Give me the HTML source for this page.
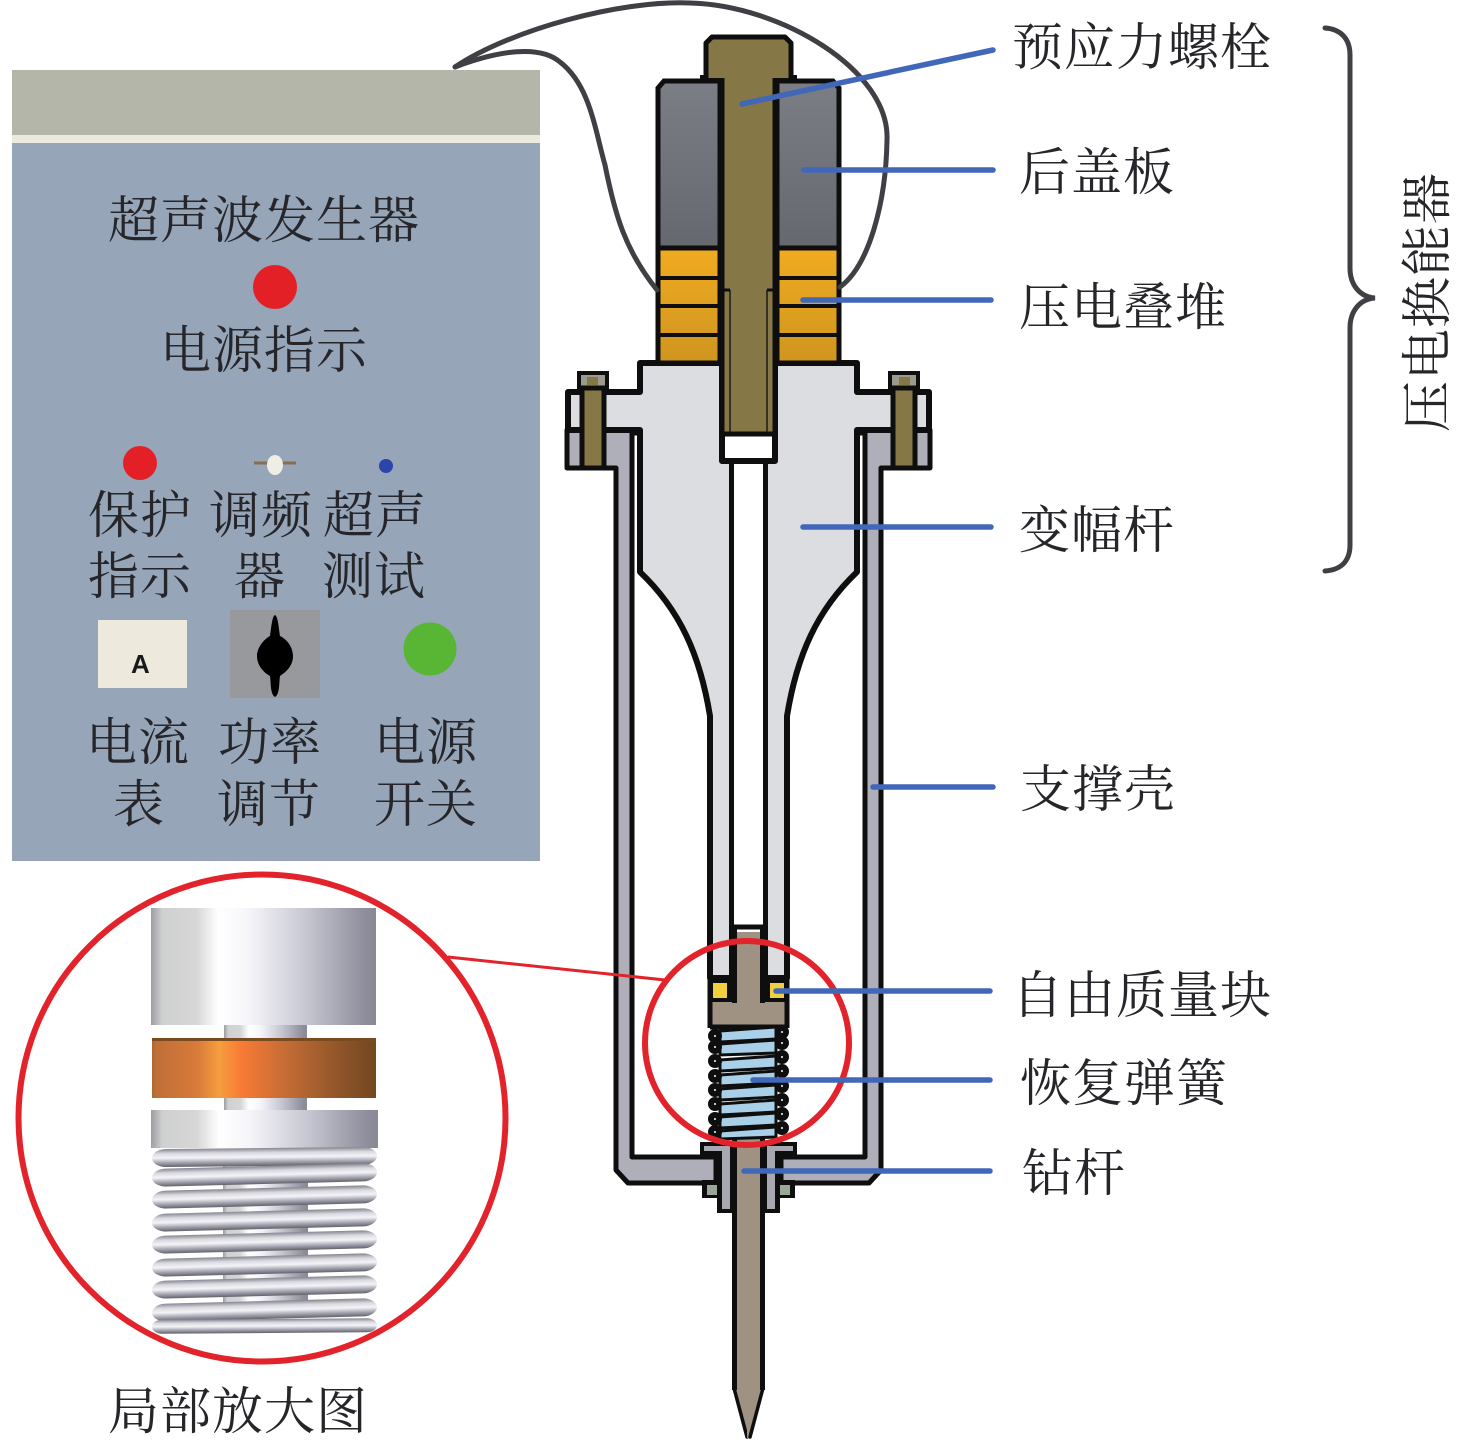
<!DOCTYPE html>
<html lang="zh">
<head>
<meta charset="utf-8">
<title>超声波钻探装置示意图</title>
<style>
html,body{margin:0;padding:0;background:#fff}
svg{display:block}
text{font-family:"Liberation Serif","Noto Serif CJK SC",serif;fill:#26262a;font-size:51px;letter-spacing:1px}
</style>
</head>
<body>
<svg width="1476" height="1456" viewBox="0 0 1476 1456" xmlns="http://www.w3.org/2000/svg">
<defs>
<linearGradient id="plate" x1="0" y1="0" x2="0" y2="1"><stop offset="0" stop-color="#7b7e85"/><stop offset="1" stop-color="#65686f"/></linearGradient>
<linearGradient id="stack" gradientUnits="userSpaceOnUse" x1="0" y1="248" x2="0" y2="363"><stop offset="0" stop-color="#f0ab20"/><stop offset="1" stop-color="#cf951f"/></linearGradient>
<linearGradient id="cyl" x1="0" y1="0" x2="1" y2="0"><stop offset="0" stop-color="#9c9ca2"/><stop offset=".05" stop-color="#cfd0d0"/><stop offset=".2" stop-color="#d6d6d6"/><stop offset=".3" stop-color="#ffffff"/><stop offset=".43" stop-color="#f6f6fa"/><stop offset=".7" stop-color="#c5c5d0"/><stop offset=".95" stop-color="#8e8e9c"/><stop offset="1" stop-color="#8a8a96"/></linearGradient>
<linearGradient id="copper" x1="0" y1="0" x2="1" y2="0"><stop offset="0" stop-color="#a96a35"/><stop offset=".02" stop-color="#c06f38"/><stop offset=".2" stop-color="#d87a3a"/><stop offset=".3" stop-color="#f59e3e"/><stop offset=".4" stop-color="#f97a35"/><stop offset=".6" stop-color="#c46c35"/><stop offset=".85" stop-color="#8c5428"/><stop offset="1" stop-color="#74471f"/></linearGradient>
<linearGradient id="coil" x1="0" y1="0" x2="0" y2="1"><stop offset="0" stop-color="#85858f"/><stop offset=".25" stop-color="#d8d8de"/><stop offset=".5" stop-color="#f4f4f8"/><stop offset=".75" stop-color="#a8a8b4"/><stop offset="1" stop-color="#62626c"/></linearGradient>
<g id="half">
  <!-- housing wall and flange -->
  <path d="M567,430 H640 V433 H632 V1157 H716 V1183 H636 L628,1183 L616,1170 V468 H567 Z" fill="#aeafb9" stroke="#0e0e0e" stroke-width="5" stroke-linejoin="round"/>
  <!-- horn half -->
  <path d="M640,363 H722 V461 H732 V978 H710 V716 C700,655 680,610 640,572 V430 H568 V392 H640 Z" fill="#dcdde0" stroke="#0e0e0e" stroke-width="6" stroke-linejoin="round"/>
  <rect x="734" y="464" width="16" height="461" fill="#fff"/>
  <rect x="725" y="437" width="25" height="21" fill="#fff"/>
  <path d="M722,461 H750" stroke="#0e0e0e" stroke-width="6"/>
  <path d="M732,927 H750" stroke="#0e0e0e" stroke-width="5"/>
  <!-- flange bolt -->
  <rect x="579" y="373" width="28" height="17" fill="#9a9a8e" stroke="#0e0e0e" stroke-width="4"/>
  <rect x="587" y="377" width="11" height="8" fill="#867846"/>
  <rect x="582" y="388" width="22" height="80" fill="#867846" stroke="#0e0e0e" stroke-width="5"/>
  <!-- back plate -->
  <path d="M658,248 V88 L664,81 H720 V248 Z" fill="url(#plate)" stroke="#0e0e0e" stroke-width="5"/>
  <rect x="658" y="248" width="62" height="115" fill="url(#stack)" stroke="#0e0e0e" stroke-width="5"/>
  <rect x="656" y="276" width="64" height="4" fill="#0e0e0e"/>
  <rect x="656" y="304" width="64" height="4" fill="#0e0e0e"/>
  <rect x="656" y="333" width="64" height="4" fill="#0e0e0e"/>
  <rect x="700" y="75" width="22" height="7" fill="#0e0e0e"/>
  <!-- bolt -->
  <path d="M750,37 H712 L706,43 V78 H722 V434 H750 Z" fill="#867846"/>
  <path d="M750,37 H712 L706,43 V78 M722,78 V434 H750" fill="none" stroke="#0e0e0e" stroke-width="5" stroke-linejoin="round"/>
  <path d="M730,290 V432" stroke="#1c1c1c" stroke-width="1.5"/>
  <path d="M722,290 H730" stroke="#0e0e0e" stroke-width="3"/>
  <!-- free mass region -->
  <rect x="708" y="976" width="29" height="28" fill="#0e0e0e"/>
  <rect x="713" y="983" width="14" height="15" fill="#f2cf3f"/>
  <path d="M750,932 H737 V1002 H712 V1026 H750 Z" fill="#a09282"/>
  <path d="M734.500,927 V1003 M710,978 V1028 M710,1027 H750" fill="none" stroke="#0e0e0e" stroke-width="5"/>
  <!-- lower fittings -->
  <path d="M700,1142 H750 V1213 H717 V1198 H702 V1180 H715 V1157 H700 Z" fill="#0e0e0e"/>
  <rect x="707" y="1185" width="10" height="10" fill="#9aa898"/>
  <path d="M704,1146 H730 V1209 H722 V1151 H704 Z" fill="#a8a9b0"/>
  <!-- tool -->
  <path d="M750,1130 H734 V1390 L747,1438 H750 Z" fill="#a09282"/>
  <path d="M734.500,1135 V1390" fill="none" stroke="#0e0e0e" stroke-width="5"/>
  <path d="M734.500,1390 L747,1437" fill="none" stroke="#0e0e0e" stroke-width="3.500" stroke-linecap="round"/>
</g>
</defs>

<!-- control panel -->
<rect x="12" y="70" width="528" height="65" fill="#b5b6aa"/>
<rect x="12" y="135" width="528" height="8" fill="#eceade"/>
<rect x="12" y="143" width="528" height="718" fill="#96a5b8"/>
<text x="108" y="238">超声波发生器</text>
<circle cx="275" cy="287" r="22" fill="#e32026"/>
<text x="160" y="368">电源指示</text>
<circle cx="140" cy="463" r="17" fill="#e32026"/>
<path d="M254,463 H296" stroke="#8a6e50" stroke-width="3"/>
<ellipse cx="275" cy="465" rx="8" ry="10" fill="#efeee4"/>
<circle cx="386" cy="466" r="7" fill="#2b45a8"/>
<text x="88" y="533">保护</text>
<text x="209" y="533">调频</text>
<text x="323" y="533">超声</text>
<text x="88" y="594">指示</text>
<text x="234" y="594">器</text>
<text x="322" y="594">测试</text>
<rect x="98" y="620" width="89" height="68" fill="#edeadd"/>
<text x="131" y="673" style="font-family:'Liberation Sans',sans-serif;font-size:26px;font-weight:bold;fill:#1a1a1a;letter-spacing:0">A</text>
<rect x="230" y="610" width="90" height="88" fill="#98999d"/>
<path d="M275,615 C278,616 279,630 280,636 C288,640 293,648 293,656 C293,666 286,672 280,676 C279,682 280,694 275,697 C270,694 271,682 270,676 C263,672 257,665 257,656 C257,648 263,640 270,636 C271,630 272,616 275,615 Z" fill="#000"/>
<circle cx="430" cy="649" r="26.500" fill="#58b634"/>
<text x="86" y="760">电流</text>
<text x="113" y="822">表</text>
<text x="218" y="760">功率</text>
<text x="217" y="822">调节</text>
<text x="374" y="760">电源</text>
<text x="374" y="822">开关</text>

<!-- transducer -->
<use href="#half"/>
<use href="#half" transform="translate(1497,0) scale(-1,1)"/>

<!-- return spring -->
<g fill="#a9d0e8" stroke="#0e0e0e" stroke-width="3">
<path d="M720,1031 L776,1027 V1039 L720,1042 Z"/>
<path d="M720,1044 L776,1040 V1053 L720,1055 Z"/>
<path d="M720,1060 L776,1056 V1068 L720,1071 Z"/>
<path d="M720,1075 L776,1071 V1083 L720,1086 Z"/>
<path d="M720,1089 L776,1085 V1097 L720,1100 Z"/>
<path d="M720,1104 L776,1100 V1112 L720,1115 Z"/>
<path d="M720,1117 L776,1113 V1125 L720,1128 Z"/>
<path d="M720,1131 L776,1127 V1137 L720,1139 Z"/>
</g>
<g fill="#fff" stroke="#0e0e0e" stroke-width="8">
<circle cx="715" cy="1036" r="3"/><circle cx="782" cy="1032" r="3"/>
<circle cx="715" cy="1047" r="3"/><circle cx="782" cy="1043" r="3"/>
<circle cx="715" cy="1061" r="3"/><circle cx="782" cy="1057" r="3"/>
<circle cx="715" cy="1076" r="3"/><circle cx="782" cy="1071" r="3"/>
<circle cx="715" cy="1090" r="3"/><circle cx="782" cy="1086" r="3"/>
<circle cx="715" cy="1104" r="3"/><circle cx="782" cy="1100" r="3"/>
<circle cx="715" cy="1119" r="3"/><circle cx="782" cy="1114" r="3"/>
<circle cx="715" cy="1132" r="3"/><circle cx="782" cy="1128" r="3"/>
</g>

<!-- cable and brace -->
<g fill="none" stroke="#3f3f44" stroke-width="5" stroke-linecap="round">
<path d="M455,67 C510,30 620,0 690,3 C780,5 890,70 887,140 C886,200 870,265 840,287"/>
<path d="M455,67 C500,50 540,45 560,62 C590,85 595,130 605,165 C615,215 625,250 657,290"/>
<path d="M1325,28 C1340,29 1350,38 1350,55 V268 C1350,285 1360,297 1375,298 C1360,299 1350,311 1350,328 V545 C1350,562 1340,570 1325,571"/>
</g>

<!-- magnifier -->
<circle cx="262" cy="1118" r="243.500" fill="#fff" stroke="#e3232b" stroke-width="6"/>
<rect x="151" y="908" width="225" height="117" fill="url(#cyl)"/>
<rect x="224" y="1025" width="83" height="13" fill="url(#cyl)"/>
<rect x="152" y="1038" width="224" height="60" fill="url(#copper)"/>
<rect x="152" y="1038" width="224" height="3" fill="#7a4a20"/>
<rect x="224" y="1098" width="83" height="13" fill="url(#cyl)"/>
<rect x="151" y="1110" width="227" height="38" fill="url(#cyl)"/>
<rect x="223" y="1160" width="85" height="150" fill="url(#cyl)"/>
<g fill="url(#coil)">
<rect x="152" y="1148" width="225" height="18" rx="14" ry="9" transform="rotate(-.6 264 1157)"/>
<rect x="152" y="1166" width="225" height="18" rx="14" ry="9" transform="rotate(-1.5 264 1175)"/>
<rect x="152" y="1188" width="225" height="18" rx="14" ry="9" transform="rotate(-1.5 264 1197)"/>
<rect x="152" y="1211" width="225" height="18" rx="14" ry="9" transform="rotate(-1.5 264 1220)"/>
<rect x="152" y="1233" width="225" height="18" rx="14" ry="9" transform="rotate(-1.5 264 1242)"/>
<rect x="152" y="1256" width="225" height="18" rx="14" ry="9" transform="rotate(-1.5 264 1265)"/>
<rect x="152" y="1278" width="225" height="18" rx="14" ry="9" transform="rotate(-1.5 264 1287)"/>
<rect x="152" y="1301" width="225" height="18" rx="14" ry="9" transform="rotate(-1.5 264 1310)"/>
<rect x="152" y="1319" width="225" height="14" rx="10" ry="7" transform="rotate(-.4 264 1326)"/>
</g>
<circle cx="747" cy="1043" r="102" fill="none" stroke="#e3232b" stroke-width="6"/>
<path d="M448,957 L665,980" stroke="#e3232b" stroke-width="3" fill="none"/>

<!-- leader lines -->
<g stroke="#4167b8" stroke-width="5.500" stroke-linecap="round" fill="none">
<path d="M742,104 L993,50"/>
<path d="M804,170 H993"/>
<path d="M803,300 H991"/>
<path d="M803,527 H991"/>
<path d="M873,787 H993"/>
<path d="M776,991 H990"/>
<path d="M753,1080 H990"/>
<path d="M744,1171 H990"/>
</g>

<!-- labels -->
<text x="1012" y="65">预应力螺栓</text>
<text x="1019" y="190">后盖板</text>
<text x="1019" y="325">压电叠堆</text>
<text x="1019" y="548">变幅杆</text>
<text x="1020" y="807">支撑壳</text>
<text x="1012" y="1013">自由质量块</text>
<text x="1020" y="1101">恢复弹簧</text>
<text x="1022" y="1191">钻杆</text>
<text x="108" y="1429">局部放大图</text>
<text transform="translate(1445,432) rotate(-90)">压电换能器</text>
</svg>
</body>
</html>
